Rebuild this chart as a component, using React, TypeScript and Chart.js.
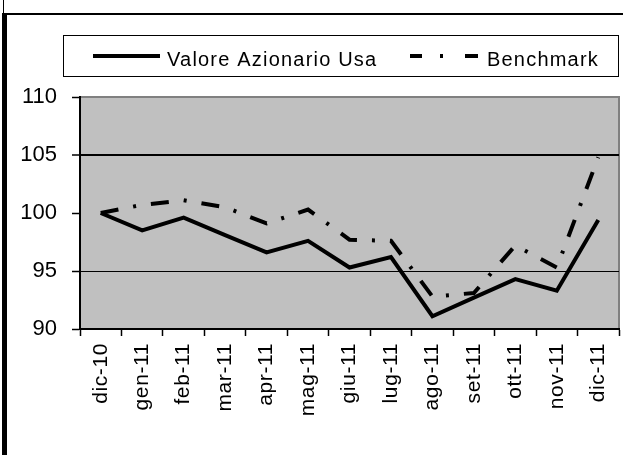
import React, { useEffect, useRef } from 'react';
import { Chart, registerables } from 'chart.js';

Chart.register(...registerables);

const categories = ['dic-10', 'gen-11', 'feb-11', 'mar-11', 'apr-11', 'mag-11', 'giu-11', 'lug-11', 'ago-11', 'set-11', 'ott-11', 'nov-11', 'dic-11'];
const valoreAzionarioUsa = [100, 98.5, 99.6, 98.1, 96.6, 97.6, 95.3, 96.2, 91.1, 92.7, 94.3, 93.3, 99.4];
const benchmark = [100, 100.7, 101.1, 100.5, 99.1, 100.3, 97.7, 97.6, 92.8, 93.1, 97.2, 95.3, 104.8];
const seriesNames = ['Valore Azionario Usa', 'Benchmark'];
const yMin = 90;
const yMax = 110;
const yStep = 5;
const visibleGridValues = [95, 105];

const FONT = '"Liberation Sans", Arial, Helvetica, sans-serif';

export default function App() {
  const ref = useRef<HTMLCanvasElement>(null);

  useEffect(() => {
    const canvas = ref.current;
    if (!canvas) return;

    const framePlugin = {
      id: 'framePlugin',
      beforeDraw(chart: any) {
        const { ctx, chartArea: a } = chart;
        ctx.save();
        ctx.fillStyle = '#ffffff';
        ctx.fillRect(0, 0, chart.width, chart.height);
        ctx.fillStyle = '#000000';
        ctx.fillRect(3, 0, 1, 14);
        ctx.fillRect(2, 13, 5, chart.height - 13);
        ctx.fillRect(3, 13, chart.width - 3, 2);
        ctx.fillStyle = '#C0C0C0';
        ctx.fillRect(a.left, a.top, a.right - a.left, a.bottom - a.top);
        ctx.strokeStyle = '#808080';
        ctx.lineWidth = 2;
        ctx.strokeRect(a.left, a.top, a.right - a.left, a.bottom - a.top);
        ctx.restore();
        ctx.letterSpacing = '0.6px';
      },
      afterDatasetsDraw(chart: any) {
        chart.ctx.letterSpacing = '0px';
      },
      afterDraw(chart: any) {
        const { ctx } = chart;
        const ds = chart.data.datasets;
        ctx.save();
        ctx.letterSpacing = '0px';
        ctx.strokeStyle = '#000';
        ctx.lineWidth = 1;
        ctx.setLineDash([]);
        ctx.strokeRect(63.5, 35.5, 555, 41);

        ctx.lineWidth = 4;
        ctx.lineCap = 'butt';
        ctx.beginPath();
        ctx.moveTo(93, 56);
        ctx.lineTo(160, 56);
        ctx.stroke();

        ctx.beginPath();
        ctx.moveTo(410, 56);
        ctx.lineTo(422, 56);
        ctx.moveTo(440, 56);
        ctx.lineTo(443, 56);
        ctx.moveTo(465, 56);
        ctx.lineTo(478, 56);
        ctx.stroke();

        ctx.fillStyle = '#000';
        ctx.font = `20px ${FONT}`;
        ctx.letterSpacing = '1.2px';
        ctx.textBaseline = 'alphabetic';
        ctx.textAlign = 'left';
        ctx.fillText(ds[0].label, 167, 66);
        ctx.fillText(ds[1].label, 487, 66);
        ctx.restore();
        ctx.letterSpacing = '0px';
      },
    };

    const chart = new Chart(canvas, {
      type: 'line',
      data: {
        labels: categories,
        datasets: [
          {
            label: seriesNames[0],
            data: valoreAzionarioUsa,
            borderColor: '#000',
            borderWidth: 4,
            pointRadius: 0,
            tension: 0,
            fill: false,
            borderJoinStyle: 'miter',
            borderCapStyle: 'butt',
          },
          {
            label: seriesNames[1],
            data: benchmark,
            borderColor: '#000',
            borderWidth: 4,
            borderDash: [18, 15, 3, 15],
            pointRadius: 0,
            tension: 0,
            fill: false,
            borderJoinStyle: 'miter',
            borderCapStyle: 'butt',
          },
        ],
      },
      options: {
        responsive: false,
        animation: false,
        devicePixelRatio: 1,
        layout: { padding: { top: 97, right: 4, left: 0, bottom: 0 } },
        plugins: {
          legend: { display: false },
          tooltip: { enabled: false },
        },
        scales: {
          x: {
            type: 'category',
            offset: true,
            grid: {
              offset: true,
              drawOnChartArea: false,
              drawTicks: true,
              tickLength: 7,
              tickColor: '#000',
              tickWidth: 1.5,
            },
            border: { color: '#000', width: 2 },
            ticks: {
              minRotation: 90,
              maxRotation: 90,
              autoSkip: false,
              color: '#000',
              padding: 7,
              font: { family: FONT, size: 21 },
            },
            afterFit: (s: any) => {
              s.height = 126;
              s.paddingLeft = 0;
              s.paddingRight = 0;
            },
          },
          y: {
            min: yMin,
            max: yMax,
            grid: {
              color: (c: any) => (c.tick && visibleGridValues.includes(c.tick.value) ? '#000' : 'rgba(0,0,0,0)'),
              lineWidth: (c: any) => (c.tick && c.tick.value === 105 ? 2 : 1),
              tickColor: '#000',
              tickLength: 8,
              tickWidth: 1.5,
            },
            border: { color: '#000', width: 2 },
            ticks: {
              stepSize: yStep,
              color: '#000',
              padding: 15,
              z: 1,
              font: { family: FONT, size: 22 },
            },
            afterFit: (s: any) => {
              s.width = 80;
            },
          },
        },
      },
      plugins: [framePlugin],
    });

    return () => chart.destroy();
  }, []);

  return (
    <div style={{ position: 'fixed', left: 0, top: 0, width: 623, height: 455, background: '#fff' }}>
      <canvas ref={ref} width={623} height={455} style={{ display: 'block', width: 623, height: 455 }} />
    </div>
  );
}
